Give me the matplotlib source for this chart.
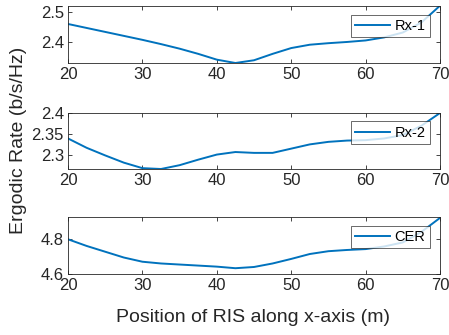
import matplotlib.pyplot as plt

plt.rcParams['font.family'] = ['Liberation Sans', 'DejaVu Sans']

# RIS position along x-axis (m)
x_pos = [20, 22.5, 25, 27.5, 30, 32.5, 35, 37.5, 40, 42.5, 45, 47.5, 50,
         52.5, 55, 57.5, 60, 62.5, 65, 67.5, 70]

# ergodic rates
rate_rx1 = [2.460, 2.447, 2.434, 2.421, 2.408, 2.394, 2.379, 2.362, 2.343, 2.332,
            2.341, 2.362, 2.381, 2.392, 2.397, 2.401, 2.406, 2.416, 2.432, 2.465, 2.520]
rate_rx2 = [2.340, 2.318, 2.300, 2.283, 2.270, 2.268, 2.277, 2.290, 2.302, 2.308,
            2.306, 2.306, 2.316, 2.326, 2.332, 2.335, 2.336, 2.340, 2.348, 2.370, 2.400]
rate_cer = [4.798, 4.760, 4.727, 4.694, 4.670, 4.660, 4.654, 4.648, 4.642, 4.633,
            4.640, 4.660, 4.686, 4.714, 4.730, 4.737, 4.742, 4.757, 4.780, 4.840, 4.920]

series = [rate_rx1, rate_rx2, rate_cer]
labels = ["Rx-1", "Rx-2", "CER"]
ylims = [(2.332, 2.519), (2.268, 2.40), (4.60, 4.925)]
yticks = [[2.4, 2.5], [2.3, 2.35, 2.4], [4.6, 4.8]]
ytlabels = [["2.4", "2.5"], ["2.3", "2.35", "2.4"], ["4.6", "4.8"]]

fig = plt.figure(figsize=(4.49, 3.35), dpi=100)
W, H = 449, 335
boxes = [(6, 63), (113, 169), (217, 274)]  # top/bottom pixel rows
left, right = 68, 440

for (top, bot), y, lab, yl, yt, ytl in zip(boxes, series, labels, ylims, yticks, ytlabels):
    ax = fig.add_axes([left / W, 1 - bot / H, (right - left) / W, (bot - top) / H])
    ax.plot(x_pos, y, color="#0072BD", lw=1.4, label=lab)
    ax.set_xlim(20, 70)
    ax.set_ylim(*yl)
    ax.set_xticks([20, 30, 40, 50, 60, 70])
    ax.set_yticks(yt)
    ax.set_yticklabels(ytl)
    ax.tick_params(direction="in", top=True, right=True, labelsize=12,
                   length=3, width=0.6, colors="#262626", pad=3)
    for s in ax.spines.values():
        s.set_linewidth(0.6)
        s.set_color("#262626")
    leg = ax.legend(loc="upper right", fontsize=10.5, frameon=True, fancybox=False,
                    handlelength=2.4, handletextpad=0.3, borderpad=0.3,
                    borderaxespad=0, bbox_to_anchor=(0.973, 0.85))
    leg.get_frame().set_edgecolor("#262626")
    leg.get_frame().set_linewidth(0.6)

fig.text(19 / W, 1 - 140 / H, "Ergodic Rate (b/s/Hz)", rotation=90,
         ha="center", va="center", fontsize=14, color="#262626")
fig.text((110 + 395) / 2 / W, 1 - 318 / H, "Position of RIS along x-axis (m)",
         ha="center", va="center", fontsize=14, color="#262626")

fig.savefig("out.png", dpi=100)
